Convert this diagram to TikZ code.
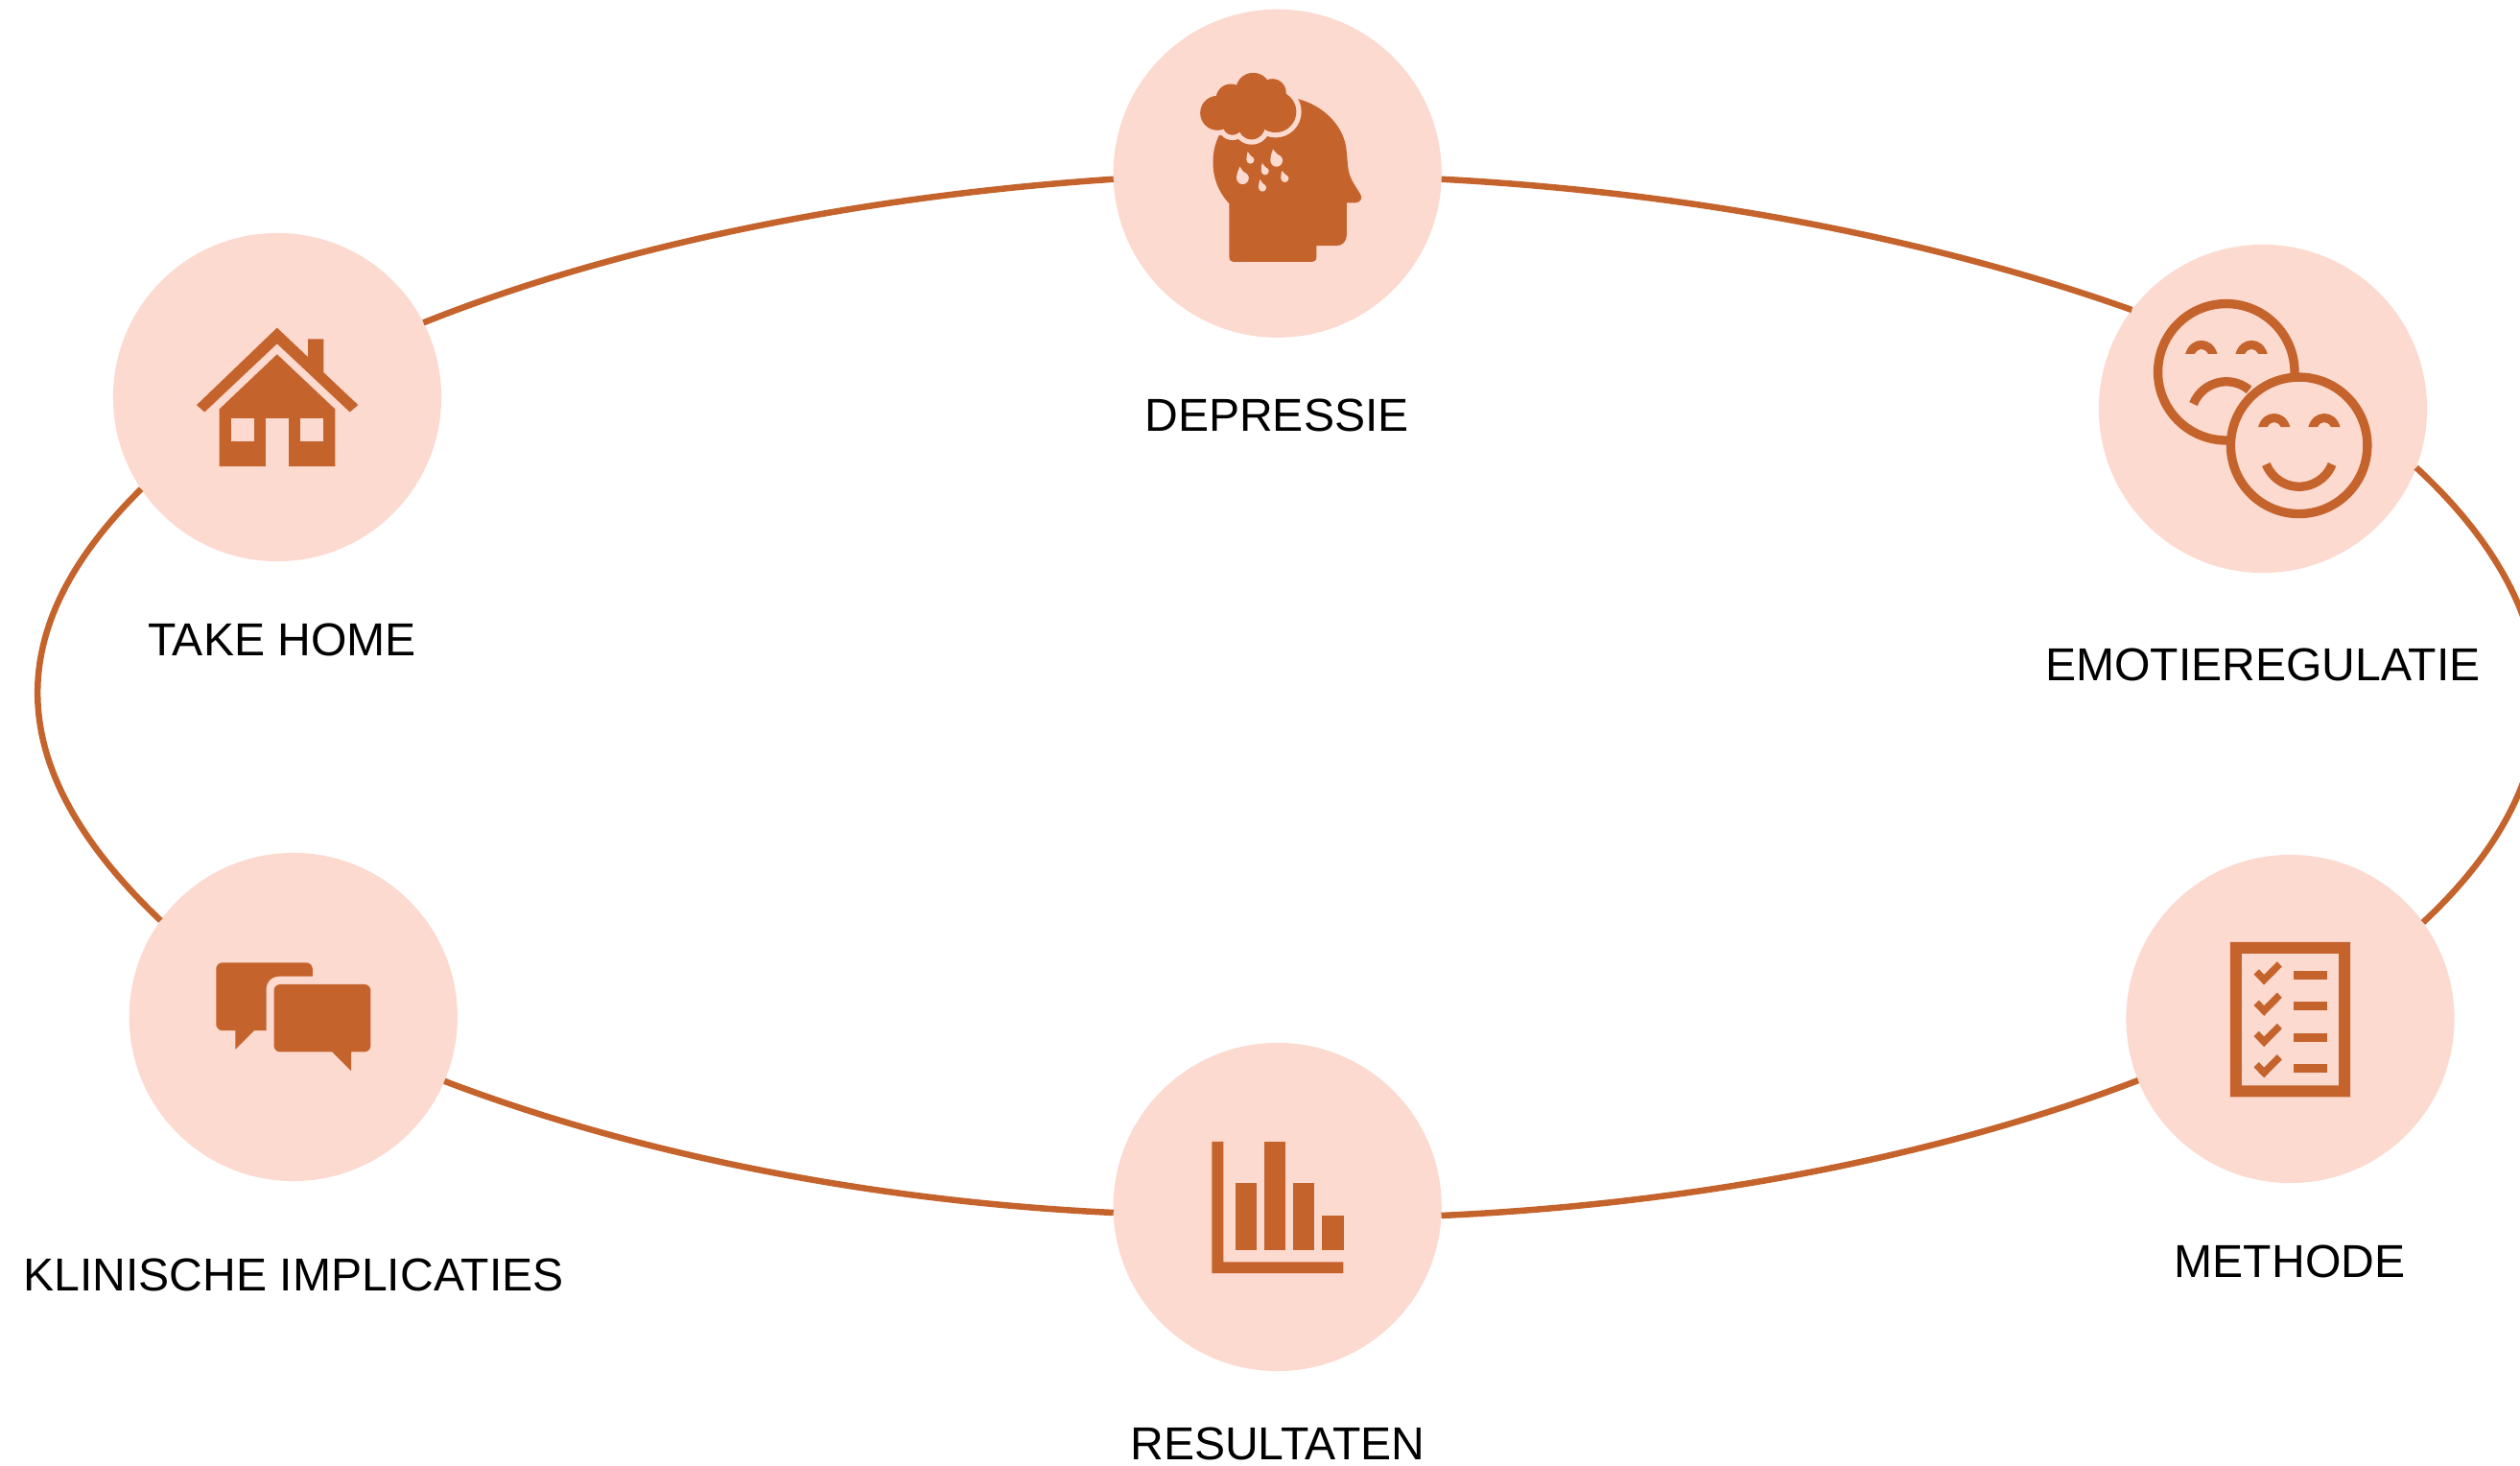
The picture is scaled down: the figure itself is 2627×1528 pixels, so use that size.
\documentclass[tikz,border=0pt]{standalone}
\usepackage{fontspec}
\setmainfont{Liberation Sans}
\definecolor{ink}{HTML}{C5632C}
\definecolor{peach}{HTML}{FCDAD0}
\tikzset{
  hub/.style={circle,fill=peach,draw=none,minimum size=3.42cm,inner sep=0pt,outer sep=0pt},
  caption/.style={anchor=base,inner sep=0pt,text=black,font=\fontsize{13.68}{16}\selectfont},
  conn/.style={draw=ink,line width=0.065cm},
  zoomed/.style={x=0.0033333cm,y=-0.0033333cm},
  ring/.style={draw=ink,line width=0.0933cm},
}
\newcommand{\raindrop}[5]{%
  \fill[peach] (#3,#4) circle[radius=#5];
  \fill[peach] (#1,#2) .. controls (#1-2,#2+8) and (#3-#5,#4-#5) .. (#3-#5,#4) -- (#3+#5,#4) .. controls (#3+#5,#4-#5*0.4) and (#3,#4-#5) .. (#1,#2) -- cycle;
}
\newcommand{\eyearc}[2]{\fill[ink] (#1-50,#2) .. controls (#1-42,#2-28) and (#1-22,#2-42) .. (#1,#2-42) .. controls (#1+22,#2-42) and (#1+42,#2-28) .. (#1+50,#2) -- (#1+21,#2) .. controls (#1+15,#2-10) and (#1+8,#2-15) .. (#1,#2-15) .. controls (#1-8,#2-15) and (#1-15,#2-10) .. (#1-21,#2) -- cycle;}
\newcommand{\checkline}[2]{%
  \fill[ink] (269,197+#1) -- (285,181+#1) -- (301,198+#1) -- (342,157+#1) -- (357,173+#1) -- (301,230+#1) -- cycle;
  \fill[ink] (393,186+#2) rectangle (498,213+#2);
}
\begin{document}
\begin{tikzpicture}[x=0.01cm,y=-0.01cm]
\useasboundingbox (0,0) rectangle (2627,1528);

% hubs
\node[hub] (dep) at (1331.7,180.8) {};
\node[hub] (emo) at (2359,426) {};
\node[hub] (met) at (2387.5,1062) {};
\node[hub] (res) at (1331.7,1258) {};
\node[hub] (kli) at (305.8,1060) {};
\node[hub] (tak) at (289,414) {};

% connectors
\draw[conn] (dep.-2.3) .. controls (1770.2,200.8) and (2021.4,251.4) .. (emo.143.6);
\draw[conn] (emo.-21.4) .. controls (2684,640) and (2691,808) .. (met.36.7);
\draw[conn] (res.-3) .. controls (1773.3,1254.6) and (2028.6,1203.1) .. (met.202.1);
\draw[conn] (res.182.6) .. controls (900.6,1251.8) and (656.6,1200.6) .. (kli.-23.3);
\draw[conn] (kli.144.7) .. controls (0,800) and (0,655) .. (tak.214.6);
\draw[conn] (dep.182.7) .. controls (890.7,204.8) and (637.9,257.8) .. (tak.27.6);

% captions
\node[caption] (capdep) at (1331,450) {DEPRESSIE};
\node[caption] (capemo) at (2359,710) {EMOTIEREGULATIE};
\node[caption] (capmet) at (2387,1331.5) {METHODE};
\node[caption] (capres) at (1332,1521.7) {RESULTATEN};
\node[caption] (capkli) at (306,1345) {KLINISCHE IMPLICATIES};
\node[caption] (captak) at (294,683.5) {TAKE HOME};

% head with rain cloud
\begin{scope}[shift={(1150,0)},zoomed]
  \fill[ink] (610,310) .. controls (690,330) and (755,395) .. (762,470)
    .. controls (768,530) and (765,540) .. (785,575) -- (805,607)
    .. controls (815,620) and (805,635) .. (790,635) -- (763,635) -- (763,735)
    .. controls (763,755) and (750,770) .. (730,770) -- (668,770) -- (668,805)
    .. controls (668,815) and (662,820) .. (655,820) -- (408,820)
    .. controls (400,820) and (395,815) .. (395,805) -- (395,638)
    .. controls (360,600) and (343,555) .. (344,505)
    .. controls (344,475) and (352,445) .. (365,420) -- (500,300) -- cycle;
  \foreach \cx/\cy/\rr in {358/354/54,400/310/47,470/283/55,530/290/43,540/350/65,465/395/42,405/393/30}
    \fill[peach] (\cx,\cy) circle[radius=\rr+16];
  \foreach \cx/\cy/\rr in {358/354/54,400/310/47,470/283/55,530/290/43,540/350/65,465/395/42,405/393/30,450/345/50}
    \fill[ink] (\cx,\cy) circle[radius=\rr];
  \raindrop{428}{522}{437}{558}{19}
  \raindrop{532}{467}{543}{503}{19}
  \raindrop{453}{475}{461}{501}{12}
  \raindrop{498}{511}{507}{536}{12}
  \raindrop{560}{535}{569}{559}{12}
  \raindrop{491}{562}{499}{588}{12}
\end{scope}

% two faces
\begin{scope}[shift={(2180,250)},zoomed]
  \draw[ring] (423,414) circle[radius=214];
  \eyearc{345}{357}
  \eyearc{502}{357}
  \draw[ring] (320,514) arc[start angle=158.3,end angle=50,radius=0.3693cm];
  \draw[ring,fill=peach] (651,644) circle[radius=214];
  \eyearc{573}{586}
  \eyearc{730}{586}
  \draw[ring] (548,703) arc[start angle=201.7,end angle=338.3,radius=0.3693cm];
\end{scope}

% checklist
\begin{scope}[shift={(2260,950)},zoomed]
  \fill[ink,even odd rule] (195,96) rectangle (571,581) (231,132) rectangle (535,545);
  \checkline{0}{0}
  \checkline{97}{96}
  \checkline{194}{195}
  \checkline{291}{291}
\end{scope}

% house
\begin{scope}[shift={(180,320)},zoomed]
  \fill[ink] (75,307) -- (327,65) -- (424,157) -- (424,100) -- (473,100) -- (473,205) -- (581,307) -- (555,329) -- (327,115) -- (100,329) -- cycle;
  \fill[ink] (327,148) -- (509,320) -- (509,499) -- (364,499) -- (364,348) -- (291,348) -- (291,499) -- (146,499) -- (146,320) -- cycle;
  \fill[peach] (182,348) rectangle (255,421);
  \fill[peach] (400,348) rectangle (473,421);
\end{scope}

% speech bubbles
\begin{scope}[shift={(200,980)},zoomed]
  \fill[ink] (378,113) -- (275,113) .. controls (250,113) and (233,130) .. (233,155) -- (233,283) -- (195,283) -- (136,342) -- (136,283) -- (96,283)
    .. controls (85,283) and (76,274) .. (76,263) -- (76,90) .. controls (76,79) and (85,70) .. (96,70) -- (358,70) .. controls (369,70) and (378,79) .. (378,90) -- cycle;
  \fill[ink] (499,409) -- (440,350) -- (277,350) .. controls (266,350) and (257,341) .. (257,330) -- (257,158) .. controls (257,147) and (266,138) .. (277,138) -- (540,138)
    .. controls (551,138) and (560,147) .. (560,158) -- (560,330) .. controls (560,341) and (551,350) .. (540,350) -- (499,350) -- cycle;
\end{scope}

% bar chart
\begin{scope}[shift={(1240,1170)},zoomed]
  \fill[ink] (70,60) -- (106,60) -- (106,437) -- (482,437) -- (482,472) -- (70,472) -- cycle;
  \fill[ink] (143,188) rectangle (209,400);
  \fill[ink] (234,60) rectangle (300,400);
  \fill[ink] (325,188) rectangle (391,400);
  \fill[ink] (415,291) rectangle (483,401);
\end{scope}
\end{tikzpicture}
\end{document}
